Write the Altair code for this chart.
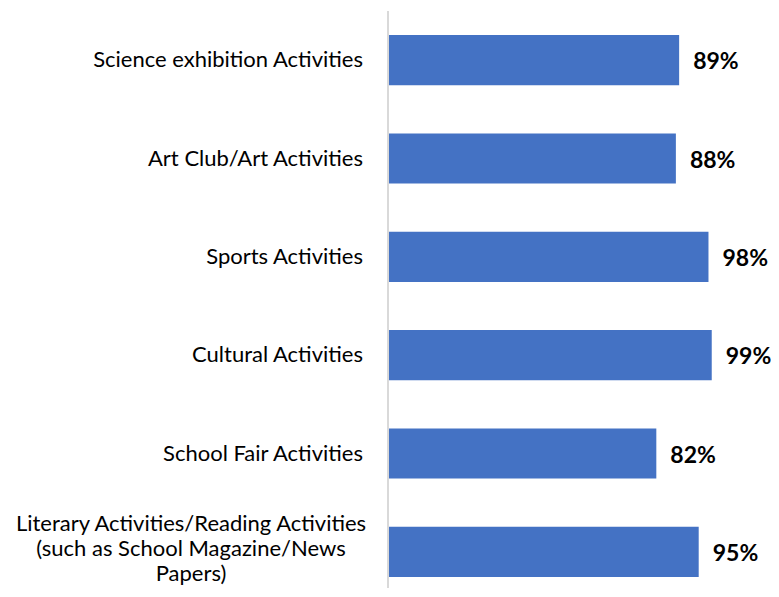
import altair as alt
import pandas as pd

categories = [
    "Science exhibition Activities",
    "Art Club/Art Activities",
    "Sports Activities",
    "Cultural Activities",
    "School Fair Activities",
    "Literary Activities/Reading Activities (such as School Magazine/News Papers)",
]
values = [89, 88, 98, 99, 82, 95]
label_lines = [
    ["Science exhibition Activities"],
    ["Art Club/Art Activities"],
    ["Sports Activities"],
    ["Cultural Activities"],
    ["School Fair Activities"],
    ["Literary Activities/Reading Activities", "(such as School Magazine/News", "Papers)"],
]

df = pd.DataFrame({
    "cat": categories,
    "val": values,
    "label": ["\n".join(l) for l in label_lines],
    "nlines": [len(l) for l in label_lines],
    "pct": [f"{v}%" for v in values],
})

FONT = "Lato"
yenc = alt.Y("cat:N", sort=categories, axis=None,
             scale=alt.Scale(range=[0, 590], paddingInner=0.49, paddingOuter=0.245))
xscale = alt.Scale(domain=[0, 100])

base = alt.Chart(df)

bars = base.mark_bar(color="#4472C4").encode(
    x=alt.X("val:Q", scale=xscale, axis=None),
    y=yenc,
)

vals = base.mark_text(align="left", baseline="middle", dx=14, dy=2, font=FONT,
                      fontWeight="bold", fontSize=23, color="#000000").encode(
    x=alt.X("val:Q", scale=xscale),
    y=yenc,
    text="pct:N",
)

single = base.transform_filter("datum.nlines == 1").mark_text(
    align="right", baseline="middle", font=FONT, fontSize=22, color="#000000"
).encode(x=alt.value(-26), y=yenc, text="label:N")

multi = base.transform_filter("datum.nlines > 1").mark_text(
    align="center", baseline="middle", font=FONT, fontSize=22, color="#000000",
    lineBreak="\n", lineHeight=25, dy=-28
).encode(x=alt.value(-198), y=yenc, text="label:N")

axis_line = alt.Chart(df).mark_rule(color="#d9d9d9", strokeWidth=2).encode(
    x=alt.value(-1), y=alt.value(0), y2=alt.value(600)
)

chart = alt.layer(axis_line, bars, vals, single, multi).properties(
    width=326, height=577,
    autosize=alt.AutoSizeParams(type="none"),
    padding={"left": 381, "top": 3, "right": 56, "bottom": 0},
).configure_view(stroke=None)

chart.save("out.html", embed_options={"renderer": "svg", "actions": False})
